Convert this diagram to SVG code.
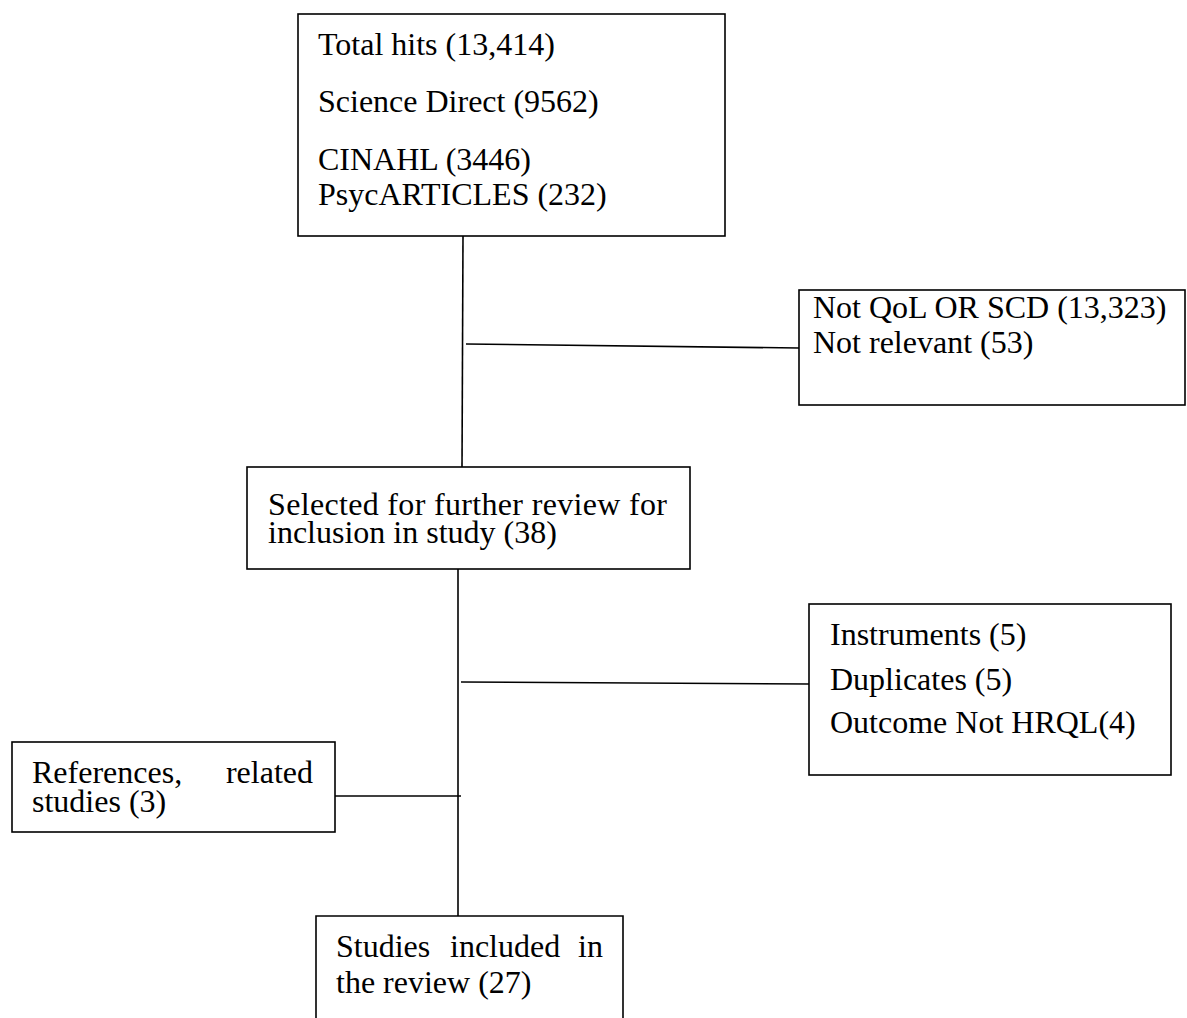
<svg xmlns="http://www.w3.org/2000/svg" width="1187" height="1018" viewBox="0 0 1187 1018">
  <style>
    .box { fill: #ffffff; stroke: #000000; stroke-width: 1.6; }
    .wire { fill: none; stroke: #000000; stroke-width: 1.6; }
    text { font-family: "Liberation Serif", "Times New Roman", serif; font-size: 32px; fill: #000000; }
  </style>
  <rect width="1187" height="1018" fill="#ffffff"/>

  <!-- connectors -->
  <g id="connectors">
    <line class="wire" x1="463" y1="236" x2="462" y2="467"/>
    <line class="wire" x1="466" y1="344" x2="799" y2="348"/>
    <line class="wire" x1="458" y1="569" x2="458" y2="916"/>
    <line class="wire" x1="461" y1="682" x2="809" y2="684"/>
    <line class="wire" x1="335" y1="796" x2="461" y2="796"/>
  </g>

  <g id="node-total-hits">
    <rect class="box" x="298" y="14" width="427" height="222"/>
    <text x="318" y="55">Total hits (13,414)</text>
    <text x="318" y="112">Science Direct (9562)</text>
    <text x="318" y="170">CINAHL (3446)</text>
    <text x="318" y="205">PsycARTICLES (232)</text>
  </g>

  <g id="node-excluded-1">
    <rect class="box" x="799" y="290" width="386" height="115"/>
    <text x="813" y="318">Not QoL OR SCD (13,323)</text>
    <text x="813" y="353">Not relevant (53)</text>
  </g>

  <g id="node-selected">
    <rect class="box" x="247" y="467" width="443" height="102"/>
    <text x="268" y="515" textLength="399" lengthAdjust="spacing">Selected for further review for</text>
    <text x="268" y="543">inclusion in study (38)</text>
  </g>

  <g id="node-excluded-2">
    <rect class="box" x="809" y="604" width="362" height="171"/>
    <text x="830" y="645">Instruments (5)</text>
    <text x="830" y="690">Duplicates (5)</text>
    <text x="830" y="733">Outcome Not HRQL(4)</text>
  </g>

  <!-- justified first lines: words pinned to both box margins -->
  <g id="node-references">
    <rect class="box" x="12" y="742" width="323" height="90"/>
    <text y="783"><tspan x="32">References,</tspan><tspan x="313" text-anchor="end">related</tspan></text>
    <text x="32" y="812">studies (3)</text>
  </g>

  <g id="node-included">
    <path class="wire" d="M316,1018 V916 H623 V1018"/>
    <text y="957"><tspan x="336">Studies</tspan><tspan x="450">included</tspan><tspan x="603" text-anchor="end">in</tspan></text>
    <text x="336" y="993">the review (27)</text>
  </g>
</svg>
